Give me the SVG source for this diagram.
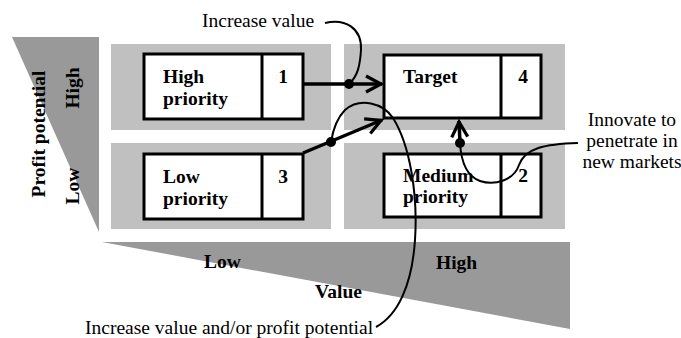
<svg xmlns="http://www.w3.org/2000/svg" width="681" height="338" viewBox="0 0 681 338">
<style>
.panel{fill:#c0c0c0}
.tri{fill:#999999}
.box{fill:#fff;stroke:#000;stroke-width:3}
.div{stroke:#000;stroke-width:3}
.b{font-family:"Liberation Serif","Times New Roman",serif;font-weight:bold;font-size:19.5px;fill:#000}
.r{font-family:"Liberation Serif","Times New Roman",serif;font-size:19.5px;fill:#000}
.arrow{fill:none;stroke:#000;stroke-width:3.5}
.curve{fill:none;stroke:#000;stroke-width:2}
.dot{fill:#000}
</style>
<defs>
<marker id="chev" viewBox="-20 -12 24 24" markerWidth="24" markerHeight="24" refX="0" refY="0" orient="auto" markerUnits="userSpaceOnUse">
<path d="M-16,-8 L-1,0 L-16,8" fill="none" stroke="#000" stroke-width="3.2"/>
</marker>
</defs>
<g id="axes">
<polygon class="tri" points="12,37 99,37 99,232"/>
<polygon class="tri" points="102,242 570,242 570,329"/>
<text class="b" text-anchor="middle" transform="translate(45,134) rotate(-90)">Profit potential</text>
<text class="b" text-anchor="middle" transform="translate(79,88) rotate(-90)">High</text>
<text class="b" text-anchor="middle" transform="translate(79,186) rotate(-90)">Low</text>
<text class="b" x="204" y="268">Low</text>
<text class="b" x="436" y="269">High</text>
<text class="b" x="315" y="298">Value</text>
</g>
<g id="panels">
<rect class="panel" x="111" y="44" width="220" height="86"/>
<rect class="panel" x="344" y="44" width="221" height="86"/>
<rect class="panel" x="111" y="143" width="220" height="86"/>
<rect class="panel" x="344" y="143" width="221" height="86"/>
</g>
<g id="high-priority">
<rect class="box" x="144" y="54" width="159" height="65"/>
<line class="div" x1="262" y1="54" x2="262" y2="119"/>
<text class="b" x="163" y="83">High</text>
<text class="b" x="163" y="105">priority</text>
<text class="b" x="283" y="83" text-anchor="middle">1</text>
</g>
<g id="low-priority">
<rect class="box" x="144" y="154" width="159" height="65"/>
<line class="div" x1="262" y1="154" x2="262" y2="219"/>
<text class="b" x="163" y="183">Low</text>
<text class="b" x="163" y="205">priority</text>
<text class="b" x="283" y="183" text-anchor="middle">3</text>
</g>
<g id="target">
<rect class="box" x="384" y="55" width="157" height="63"/>
<line class="div" x1="501" y1="55" x2="501" y2="118"/>
<text class="b" x="403" y="83">Target</text>
<text class="b" x="523" y="83" text-anchor="middle">4</text>
</g>
<g id="medium-priority">
<rect class="box" x="384" y="154" width="157" height="63"/>
<line class="div" x1="501" y1="154" x2="501" y2="217"/>
<text class="b" x="403" y="182">Medium</text>
<text class="b" x="403" y="203">priority</text>
<text class="b" x="523" y="182" text-anchor="middle">2</text>
</g>
<g id="connectors">
<line class="arrow" x1="303" y1="84" x2="382" y2="84" marker-end="url(#chev)"/>
<line class="arrow" x1="303" y1="153" x2="382" y2="120" marker-end="url(#chev)"/>
<line class="arrow" x1="460" y1="143" x2="459" y2="121" marker-end="url(#chev)"/>
<path class="curve" d="M325,23 C345,18 362,28 361,50 C360,65 358,76 349,84"/>
<path class="curve" d="M376,327 C398,315 412,285 415,240 C418,195 410,145 393,118 C383,103 360,97 345,110 C337,118 333,130 331,142"/>
<path class="curve" d="M578,143 C545,144 525,148 519,165 C514,180 495,186 480,181 C466,176 461,160 460,143"/>
<circle class="dot" cx="349" cy="84" r="5"/>
<circle class="dot" cx="331" cy="142" r="5"/>
<circle class="dot" cx="460" cy="143" r="5"/>
</g>
<g id="labels">
<text class="r" x="202" y="27">Increase value</text>
<text class="r" x="85" y="334">Increase value and/or profit potential</text>
<text class="r" x="632" y="126" text-anchor="middle">Innovate to</text>
<text class="r" x="632" y="147" text-anchor="middle">penetrate in</text>
<text class="r" x="632" y="168" text-anchor="middle">new markets</text>
</g>
</svg>
